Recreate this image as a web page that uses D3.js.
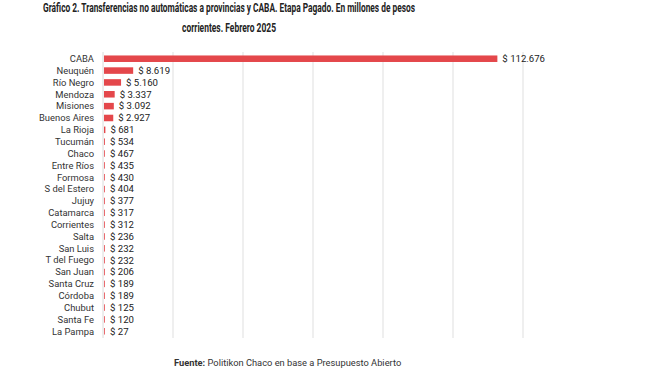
<!DOCTYPE html>
<meta charset="utf-8">
<style>
body { margin: 0; background: #fff; }
text { font-family: "Roboto", "Liberation Sans", sans-serif; }
</style>
<svg width="662" height="377"></svg>
<script src="https://cdn.jsdelivr.net/npm/d3@7"></script>
<script>

var provincias = ["CABA", "Neuquén", "Río Negro", "Mendoza", "Misiones", "Buenos Aires", "La Rioja",
  "Tucumán", "Chaco", "Entre Ríos", "Formosa", "S del Estero", "Jujuy", "Catamarca", "Corrientes",
  "Salta", "San Luis", "T del Fuego", "San Juan", "Santa Cruz", "Córdoba", "Chubut", "Santa Fe", "La Pampa"];
var montos = [112676, 8619, 5160, 3337, 3092, 2927, 681, 534, 467, 435, 430, 404, 377, 317, 312,
  236, 232, 232, 206, 189, 189, 125, 120, 27];
var gridTicks = [0, 20000, 40000, 60000, 80000, 100000, 120000];

var svg = d3.select("svg");

var x = d3.scaleLinear()
    .domain([0, 120000])
    .range([103, 523]);

var y = d3.scaleBand()
    .domain(provincias)
    .range([52.8, 337.2])
    .paddingInner(0.45)
    .paddingOuter(0.225);

var es = d3.formatLocale({decimal: ",", thousands: ".", grouping: [3], currency: ["$ ", ""]});
var fmt = es.format(",d");

// titulo
var title = svg.append("g")
    .attr("font-weight", "bold")
    .attr("font-size", 12)
    .attr("fill", "#222")
    .attr("text-anchor", "middle");
title.append("text")
    .attr("x", 229).attr("y", 12)
    .attr("textLength", 372).attr("lengthAdjust", "spacingAndGlyphs")
    .text("Gráfico 2. Transferencias no automáticas a provincias y CABA. Etapa Pagado. En millones de pesos");
title.append("text")
    .attr("x", 229).attr("y", 32)
    .attr("textLength", 94).attr("lengthAdjust", "spacingAndGlyphs")
    .text("corrientes. Febrero 2025");

// grilla
svg.append("g")
  .selectAll("line")
  .data(gridTicks.slice(1))
  .enter().append("line")
    .attr("x1", function(d) { return x(d); })
    .attr("x2", function(d) { return x(d); })
    .attr("y1", 52)
    .attr("y2", 338)
    .attr("stroke", "#e4e4e4")
    .attr("stroke-width", 1.2);

svg.append("line")
    .attr("x1", x(0)).attr("x2", x(0))
    .attr("y1", 52).attr("y2", 338)
    .attr("stroke", "#dadada");

// barras
svg.append("g")
  .selectAll("rect")
  .data(provincias)
  .enter().append("rect")
    .attr("x", x(0) + 1)
    .attr("y", function(d) { return y(d); })
    .attr("width", function(d, i) { return Math.max(0.8, x(montos[i]) - x(0) - 1); })
    .attr("height", y.bandwidth())
    .attr("fill", "#e4474b");

// etiquetas de provincias
svg.append("g")
    .attr("font-size", 9.4)
    .attr("fill", "#333")
    .attr("text-anchor", "end")
  .selectAll("text")
  .data(provincias)
  .enter().append("text")
    .attr("x", 94)
    .attr("y", function(d) { return y(d) + y.bandwidth() / 2; })
    .attr("dy", "0.35em")
    .text(function(d) { return d; });

// valores
svg.append("g")
    .attr("font-size", 9.6)
    .attr("fill", "#222")
  .selectAll("text")
  .data(provincias)
  .enter().append("text")
    .attr("x", function(d, i) { return Math.max(x(montos[i]), x(0) + 2) + 5; })
    .attr("y", function(d) { return y(d) + y.bandwidth() / 2; })
    .attr("dy", "0.35em")
    .text(function(d, i) { return "$ " + fmt(montos[i]); });

// fuente
var fuente = svg.append("text")
    .attr("x", 174)
    .attr("y", 366)
    .attr("font-size", 9.3)
    .attr("fill", "#333");
fuente.append("tspan").attr("font-weight", "bold").text("Fuente:");
fuente.append("tspan").text(" Politikon Chaco en base a Presupuesto Abierto");

</script>
